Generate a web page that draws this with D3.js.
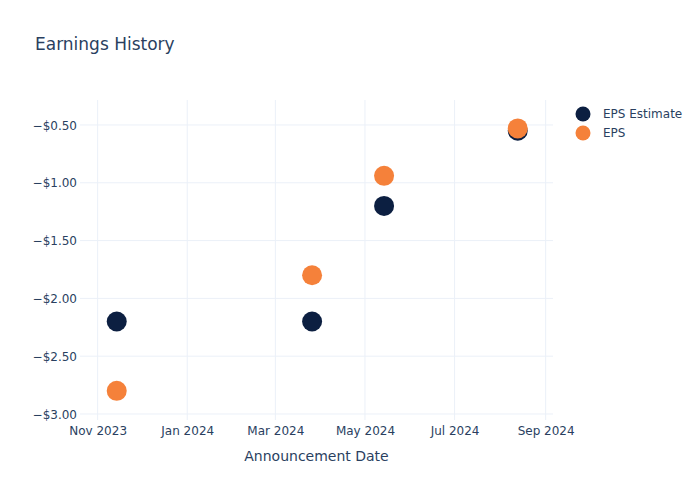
<!DOCTYPE html>
<html>
<head>
<meta charset="utf-8">
<script src="https://cdn.jsdelivr.net/npm/d3@7"></script>
<style>
html,body{margin:0;padding:0;background:#fff;}
svg{display:block;font-family:"DejaVu Sans",Verdana,sans-serif;}
</style>
</head>
<body>
<svg id="chart" width="700" height="500"></svg>
<script>
const dates = ["2023-11-14", "2024-03-26", "2024-05-14", "2024-08-13"];
const epsEstimate = [-2.20, -2.20, -1.20, -0.55];
const eps = [-2.80, -1.80, -0.94, -0.53];
const yTicks = [-3.0, -2.5, -2.0, -1.5, -1.0, -0.5];
const xTickDates = ["2023-11-01", "2024-01-01", "2024-03-01", "2024-05-01", "2024-07-01", "2024-09-01"];
const seriesNames = ["EPS Estimate", "EPS"];
const seriesColors = ["#0c1f41", "#f5813a"];

const parse = d3.utcParse("%Y-%m-%d");
const svg = d3.select("#chart");
const textColor = "#2a3f5f";
const gridColor = "#ebf0f8";

const L = 80, R = 553, T = 100, B = 420;
const x = d3.scaleUtc().domain([parse("2023-10-20"), parse("2024-09-06")]).range([L, R]);
const y = d3.scaleLinear().domain([-3.052, -0.284]).range([B, T]);

// grid
svg.append("g").selectAll("line").data(xTickDates).join("line")
  .attr("x1", d => x(parse(d))).attr("x2", d => x(parse(d)))
  .attr("y1", T).attr("y2", B)
  .attr("stroke", gridColor).attr("stroke-width", 1);
svg.append("g").selectAll("line").data(yTicks).join("line")
  .attr("x1", L).attr("x2", R)
  .attr("y1", d => y(d)).attr("y2", d => y(d))
  .attr("stroke", gridColor).attr("stroke-width", 1);

// axes via d3 axis (labels only)
const fmtMoney = v => "\u2212$" + Math.abs(v).toFixed(2);
const yAxis = d3.axisLeft(y).tickValues(yTicks).tickFormat(fmtMoney).tickSize(0).tickPadding(3);
const gy = svg.append("g").attr("transform", `translate(${L},0)`).call(yAxis);
gy.select(".domain").remove();
gy.selectAll("text").attr("fill", textColor).style("font-size", "12px").style("font-family", "DejaVu Sans, sans-serif").attr("dy", "0.35em");

const fmtDate = d3.utcFormat("%b %Y");
const xAxis = d3.axisBottom(x).tickValues(xTickDates.map(parse)).tickFormat(fmtDate).tickSize(0).tickPadding(6);
const gx = svg.append("g").attr("transform", `translate(0,${B})`).call(xAxis);
gx.select(".domain").remove();
gx.selectAll("text").attr("fill", textColor).style("font-size", "12px").style("font-family", "DejaVu Sans, sans-serif");

// points
const series = [epsEstimate, eps];
series.forEach((vals, i) => {
  svg.append("g").selectAll("circle").data(vals).join("circle")
    .attr("cx", (d, j) => x(parse(dates[j])))
    .attr("cy", d => y(d))
    .attr("r", 10)
    .attr("fill", seriesColors[i]);
});

// title
svg.append("text").attr("x", 35).attr("y", 50).text("Earnings History")
  .attr("fill", textColor).style("font-size", "17px");

// x axis title
svg.append("text").attr("x", (L + R) / 2).attr("y", 461).attr("text-anchor", "middle")
  .text("Announcement Date").attr("fill", textColor).style("font-size", "14px");

// legend
const lg = svg.append("g");
seriesNames.forEach((n, i) => {
  lg.append("circle").attr("cx", 583).attr("cy", 114 + i * 19).attr("r", 7.5).attr("fill", seriesColors[i]);
  lg.append("text").attr("x", 603).attr("y", 114 + i * 19).attr("dy", "0.35em").text(n)
    .attr("fill", textColor).style("font-size", "12px");
});
</script>
</body>
</html>
